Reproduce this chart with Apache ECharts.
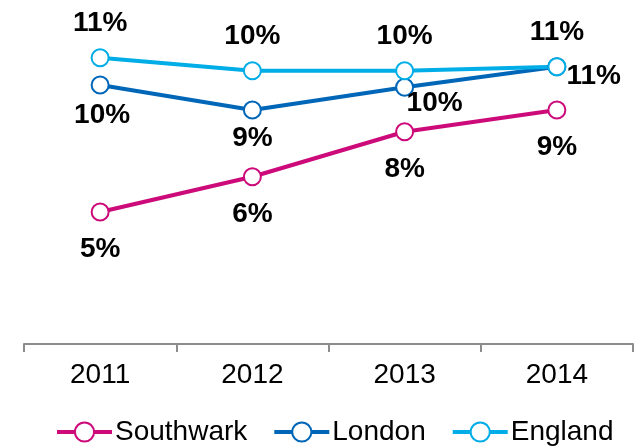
<!DOCTYPE html>
<html>
<head>
<meta charset="utf-8">
<script src="https://cdn.jsdelivr.net/npm/echarts@6/dist/echarts.min.js"></script>
<style>
  html, body { margin: 0; padding: 0; background: #fff; }
  #mainContent { width: 637px; height: 446px; }
</style>
</head>
<body>
<div id="mainContent"></div>
<script>
// data (percent)
var years = ['2011', '2012', '2013', '2014'];
var southwark = [4.76, 6.17, 7.97, 8.84];
var london = [9.84, 8.84, 9.75, 10.57];
var england = [10.93, 10.41, 10.41, 10.57];

var FONT = '"Liberation Sans", Arial, sans-serif';

var myChart = echarts.init(document.getElementById('mainContent'));

function pct(p) {
    return Math.round(p.value) + '%';
}

// label placement per point for London (some are shifted to avoid overlap)
var londonLabels = [
    { position: 'bottom', distance: 7, offset: [2, 0] },
    { position: 'bottom', distance: 5, offset: [0, 0] },
    { position: 'bottom', distance: 7, offset: [30, -14] },
    { position: 'right', distance: 3, offset: [-3, 10] }
];

function lineSeries(name, values, color, labelPos, labelDist) {
    return {
        name: name,
        type: 'line',
        symbol: 'emptyCircle',
        symbolSize: 17,
        lineStyle: { color: color, width: 4 },
        itemStyle: { color: color, borderWidth: 3.5 },
        label: {
            show: true,
            position: labelPos,
            distance: labelDist,
            formatter: pct,
            color: '#000',
            fontFamily: FONT,
            fontWeight: 'bold',
            fontSize: 28
        },
        data: values
    };
}

var londonSeries = lineSeries('London', london, '#0066B8', 'bottom', 7);
londonSeries.data = london.map(function (v, i) {
    return { value: v, label: londonLabels[i] };
});

option = {
    animation: false,
    grid: { left: 24, right: 4, top: 19, bottom: 102 },
    legend: {
        left: 55,
        top: 418,
        padding: 0,
        itemWidth: 55,
        itemHeight: 24,
        itemGap: 25,
        lineStyle: { width: 4 },
        itemStyle: { borderWidth: 3.5 },
        textStyle: { color: '#000', fontFamily: FONT, fontSize: 28, padding: [0, 0, 0, -2] },
        data: ['Southwark', 'London', 'England']
    },
    xAxis: {
        type: 'category',
        data: years,
        boundaryGap: true,
        axisLine: { onZero: false, lineStyle: { color: '#8c8c8c', width: 2 } },
        axisTick: { show: true, length: 8, lineStyle: { color: '#8c8c8c', width: 2 } },
        axisLabel: { color: '#000', fontFamily: FONT, fontSize: 28, margin: 17 }
    },
    yAxis: {
        type: 'value',
        min: -0.52,
        max: 12.48,
        show: false,
        splitLine: { show: false }
    },
    series: [
        lineSeries('Southwark', southwark, '#CC0A7A', 'bottom', 14),
        londonSeries,
        lineSeries('England', england, '#00ADE6', 'top', 11)
    ]
};

myChart.setOption(option);
</script>
</body>
</html>
